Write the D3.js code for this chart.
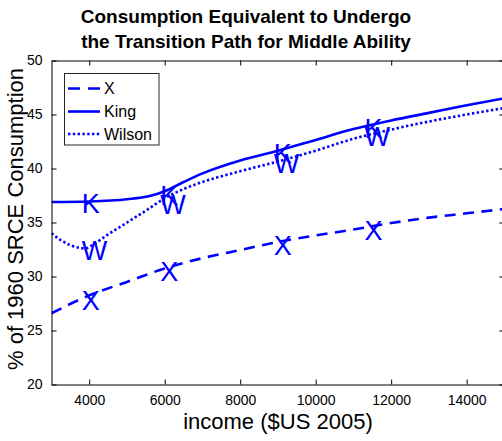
<!DOCTYPE html>
<html><head><meta charset="utf-8">
<script src="https://cdn.jsdelivr.net/npm/d3@7/dist/d3.min.js"></script>
<style>body{margin:0;background:#fff}svg{display:block}text{font-family:"Liberation Sans",Arial,sans-serif}</style>
</head><body>
<script>
// ---- data ----
const incomeX = [3000,4000,5000,6000,7000,8000,9000,10000,11000,12000,13000,14000,15000];
const valuesX = [26.6,28.25,29.5,30.75,31.7,32.45,33.2,33.8,34.35,34.95,35.45,35.85,36.25];
const incomeKing = [3000,4000,5000,5600,6000,6500,7000,8000,9000,10000,11000,12000,13000,14000,15000];
const valuesKing = [36.9,36.95,37.15,37.45,37.9,38.75,39.55,40.75,41.65,42.65,43.65,44.45,45.15,45.85,46.5];
const incomeWilson = [3000,3250,3500,3750,3900,4100,4500,5000,5500,6000,6500,7000,8000,9000,10000,11000,12000,13000,14000,15000];
const valuesWilson = [34.0,33.35,32.9,32.65,32.6,32.95,33.9,35.0,36.1,37.25,38.1,38.75,39.75,40.65,41.65,42.75,43.6,44.35,45.0,45.6];
const markerIncome = [3800,5880,8890,11290];
const markerX = [27.82,30.5,32.9,34.3];
const markerKing = [36.78,37.55,41.43,43.75];
const markerWilson = [32.45,36.67,40.5,43.0];
const xTicks = [4000,6000,8000,10000,12000,14000];
const yTicks = [20,25,30,35,40,45,50];
const seriesNames = ["X","King","Wilson"];
const markerLetters = ["X","K","W"];
const titleLines = ["Consumption Equivalent to Undergo","the Transition Path for Middle Ability"];
const xLabel = "income ($US 2005)";
const yLabel = "% of 1960 SRCE Consumption";

// ---- layout ----
const W = 502, H = 441;
const L = 51.5, R = 504.4, T = 60.5, B = 384.5;
const blue = "#0000ff";
const svg = d3.select("body").append("svg").attr("width",W).attr("height",H);
const x = d3.scaleLinear().domain([3000,15000]).range([L,R]);
const y = d3.scaleLinear().domain([20,50]).range([B,T]);

const series = [
  {name:seriesNames[0], inc:incomeX, val:valuesX, dash:"11 7.5", mk:markerX, letter:markerLetters[0]},
  {name:seriesNames[1], inc:incomeKing, val:valuesKing, dash:"none", mk:markerKing, letter:markerLetters[1]},
  {name:seriesNames[2], inc:incomeWilson, val:valuesWilson, dash:"2.4 2.4", mk:markerWilson, letter:markerLetters[2]}
];

svg.append("clipPath").attr("id","c").append("rect")
  .attr("x",L).attr("y",T).attr("width",R-L).attr("height",B-T);

const line = d3.line().curve(d3.curveMonotoneX);
const g = svg.append("g").attr("clip-path","url(#c)");
series.forEach(s=>{
  g.append("path")
    .attr("d", line(s.inc.map((v,i)=>[x(v), y(s.val[i])])))
    .style("fill","none").style("stroke",blue).style("stroke-width","2.6px")
    .style("stroke-linecap","butt")
    .style("stroke-dasharray", s.dash);
});

// markers (letters)
const mSize = 27, capHalf = 0.716*mSize/2;
series.forEach(s=>{
  svg.append("g").selectAll("text").data(markerIncome).join("text")
    .attr("x", d=>x(d)).attr("y",(d,i)=>y(s.mk[i])+capHalf)
    .attr("fill",blue).attr("font-size",mSize).text(s.letter);
});

// axes
const fmt = d3.format("d");
const axB = d3.axisBottom(x).tickValues(xTicks).tickFormat(fmt).tickSizeInner(-5).tickSizeOuter(0).tickPadding(11);
const axT = d3.axisTop(x).tickValues(xTicks).tickSizeInner(-5).tickSizeOuter(0).tickFormat("");
const axL = d3.axisLeft(y).tickValues(yTicks).tickFormat(fmt).tickSizeInner(-5).tickSizeOuter(0).tickPadding(9);
const axR = d3.axisRight(y).tickValues(yTicks).tickSizeInner(-5).tickSizeOuter(0).tickFormat("");
function style(sel){
  sel.selectAll("path,line").attr("stroke","#000").attr("stroke-width",1);
  sel.selectAll("text").attr("font-size",14).attr("fill","#000").attr("font-family","Liberation Sans, Arial, sans-serif");
}
svg.append("g").attr("transform",`translate(0,${B})`).call(axB).call(style);
svg.append("g").attr("transform",`translate(0,${T})`).call(axT).call(style);
svg.append("g").attr("transform",`translate(${L},0)`).call(axL).call(style);
svg.append("g").attr("transform",`translate(${R},0)`).call(axR).call(style);

// title
svg.append("g").selectAll("text").data(titleLines).join("text")
  .attr("x",246).attr("y",(d,i)=>23+i*25).attr("text-anchor","middle")
  .attr("font-size",19).attr("font-weight","bold").attr("fill","#000").text(d=>d);

// axis labels
svg.append("text").attr("x",(L+R)/2).attr("y",429).attr("text-anchor","middle")
  .attr("font-size",22).attr("fill","#000").text(xLabel);
svg.append("text").attr("transform","translate(23,219) rotate(-90)").attr("text-anchor","middle")
  .attr("font-size",22).attr("fill","#000").text(yLabel);

// legend
const lg = svg.append("g");
lg.append("rect").attr("x",64.5).attr("y",73.5).attr("width",94.5).attr("height",71.5)
  .attr("fill","#fff").attr("stroke","#262626").attr("stroke-width",1);
const ly = [88.5,111.5,134];
const legendDash = ["12 8","none","2.4 2.4"];
series.forEach((s,i)=>{
  lg.append("line").attr("x1",68).attr("x2",100).attr("y1",ly[i]).attr("y2",ly[i])
    .style("stroke",blue).style("stroke-width","2.6px")
    .style("stroke-dasharray", legendDash[i]);
  lg.append("text").attr("x",104).attr("y",ly[i]+5.8).attr("font-size",16).attr("fill","#000").text(s.name);
});
</script>
</body></html>
